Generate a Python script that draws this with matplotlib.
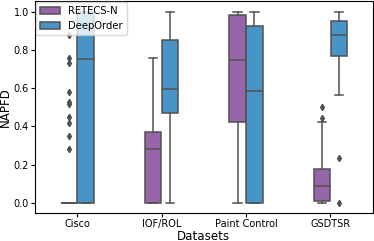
import matplotlib
matplotlib.use("Agg")
import matplotlib.pyplot as plt
import matplotlib.patches as mpatches
import seaborn as sns

## box statistics

datasets = ["Cisco", "IOF/ROL", "Paint Control", "GSDTSR"]
methods = ["RETECS-N", "DeepOrder"]

# RETECS-N
r_whislo = [0.0, 0.0, 0.0, 0.0]
r_q1 = [0.0, 0.0, 0.421, 0.008]
r_med = [0.0, 0.282, 0.748, 0.088]
r_q3 = [0.0, 0.369, 0.985, 0.178]
r_whishi = [0.0, 0.758, 1.0, 0.421]
r_fliers = [[0.88, 0.76, 0.73, 0.58, 0.53, 0.52, 0.45, 0.42, 0.35, 0.28],
            [], [], [0.504, 0.443]]

# DeepOrder
d_whislo = [0.0, 0.0, 0.0, 0.563]
d_q1 = [0.0, 0.469, 0.0, 0.767]
d_med = [0.753, 0.594, 0.588, 0.876]
d_q3 = [1.0, 0.85, 0.923, 0.954]
d_whishi = [1.0, 1.0, 1.0, 1.0]
d_fliers = [[], [], [], [0.235, 0.0]]

## colours (flat ui palette, desaturated like seaborn does)
purple = sns.desaturate("#9b59b6", 0.75)
blue = sns.desaturate("#3498db", 0.75)
gray = "#515151"

fig = plt.figure(figsize=(3.74, 2.41), dpi=100)
ax = fig.add_axes([0.094, 0.118, 0.902, 0.877])

def stats(lo, q1, med, q3, hi, fl):
    out = []
    for i in range(len(lo)):
        out.append(dict(whislo=lo[i], q1=q1[i], med=med[i], q3=q3[i],
                        whishi=hi[i], fliers=fl[i]))
    return out

box_w = 0.196
lw = 1.1
flierprops = dict(marker="d", markersize=3.2, markerfacecolor=gray,
                  markeredgecolor=gray, linestyle="none")
common = dict(widths=box_w, patch_artist=True, showfliers=True,
              boxprops=dict(edgecolor=gray, linewidth=lw),
              medianprops=dict(color=gray, linewidth=lw),
              whiskerprops=dict(color=gray, linewidth=lw),
              capprops=dict(color=gray, linewidth=lw),
              flierprops=flierprops, manage_ticks=False)

pos = list(range(len(datasets)))
b1 = ax.bxp(stats(r_whislo, r_q1, r_med, r_q3, r_whishi, r_fliers),
            positions=[p - 0.1 for p in pos], **common)
b2 = ax.bxp(stats(d_whislo, d_q1, d_med, d_q3, d_whishi, d_fliers),
            positions=[p + 0.1 for p in pos], **common)
for b in b1["boxes"]:
    b.set_facecolor(purple)
for b in b2["boxes"]:
    b.set_facecolor(blue)

ax.set_xlim(-0.5, 3.5)
ax.set_ylim(-0.05, 1.055)
ax.set_xticks(pos)
ax.set_xticklabels(datasets, fontsize=7)
ax.set_yticks([0, 0.2, 0.4, 0.6, 0.8, 1.0])
ax.set_yticklabels(["0.0", "0.2", "0.4", "0.6", "0.8", "1.0"], fontsize=7)
ax.tick_params(length=3, width=0.8, pad=1.5)
ax.set_xlabel("Datasets", fontsize=8.6, labelpad=0.5)
ax.set_ylabel("NAPFD", fontsize=8.6, labelpad=1)

handles = [mpatches.Patch(facecolor=purple, edgecolor=gray, linewidth=lw, label=methods[0]),
           mpatches.Patch(facecolor=blue, edgecolor=gray, linewidth=lw, label=methods[1])]
ax.legend(handles=handles, loc="upper left", fontsize=7.2, borderaxespad=0.1,
          handlelength=2.0)

plt.savefig("out.png", dpi=100)
